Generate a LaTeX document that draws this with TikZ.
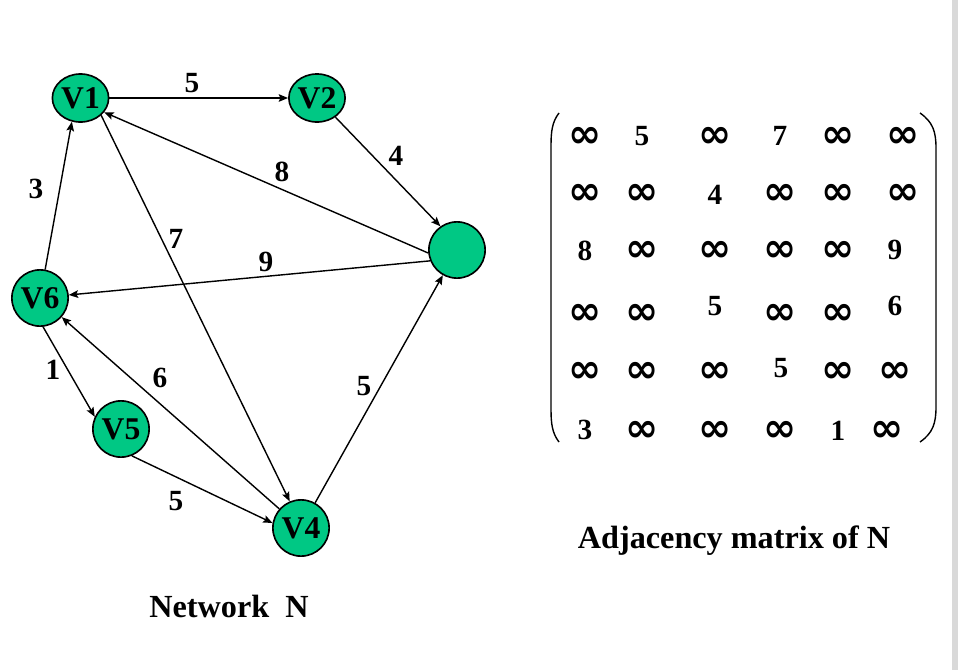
\documentclass[tikz,border=0pt]{standalone}
\usepackage{fontspec}
\setmainfont{Liberation Serif}
\newfontfamily\infont{DejaVu Sans}
\usepackage{tikz}
\usetikzlibrary{arrows.meta,shapes.geometric}

\definecolor{vgreen}{RGB}{0,200,132}
\newcommand{\infy}{\raisebox{-1.9pt}{\infont\bfseries\fontsize{34}{38}\selectfont ∞}}

\begin{document}
\begin{tikzpicture}[x=0.03cm,y=-0.03cm,
  vert/.style={circle,draw,line width=1.4pt,fill=vgreen,inner sep=0pt,minimum size=48pt,font=\bfseries\fontsize{27}{30}\selectfont},
  vertoval/.style={vert,ellipse,minimum width=48pt,minimum height=41pt},
  link/.style={line width=1.2pt,-{Stealth[length=8pt,width=6.5pt,inset=1.5pt]}},
  wt/.style={inner sep=0pt,font=\bfseries\fontsize{25}{28}\selectfont},
  entry/.style={inner sep=0pt,text height=21.4pt,text depth=0pt,font=\bfseries\fontsize{25}{28}\selectfont},
  caption/.style={inner sep=0pt,font=\bfseries\fontsize{27.5}{32}\selectfont}]
\useasboundingbox (0,0) rectangle (958,670);
\fill[gray!30] (952,0) rectangle (958,670);

\node[vertoval] (v1) at (80.5,98) {V1};
\node[vertoval] (v2) at (317,98) {V2};
\node[vert] (v3) at (457,250) {};
\node[vert] (v4) at (301,528) {V4};
\node[vert] (v5) at (121,429) {V5};
\node[vert] (v6) at (40,298) {V6};

\draw[link] (v1) -- (v2);
\draw[link] (v2) -- (v3.125);
\draw[link] (v3.186) -- (v1.329);
\draw[link] (v3.202) -- (v6.6);
\draw[link] (v6) -- (v1.250);
\draw[link] (v1.320) -- (v4.113);
\draw[link] (v4) -- (v6);
\draw[link] (v6.276) -- (v5.155);
\draw[link] (v5.292) -- (v4.170);
\draw[link] (v4) -- (v3);

\node[wt] (w12) at (192,83) {5};
\node[wt] (w23) at (396,156) {4};
\node[wt] (w31) at (282,172) {8};
\node[wt] (w36) at (266,262) {9};
\node[wt] (w61) at (36,189) {3};
\node[wt] (w14) at (176,239) {7};
\node[wt] (w46) at (160,378) {6};
\node[wt] (w65) at (53,370) {1};
\node[wt] (w54) at (176,501) {5};
\node[wt] (w43) at (364,386) {5};

\node[caption] (netcap) at (229,606) {Network~~N};

\draw[line width=1.2pt] (559,113) .. controls (552,122) and (551,132) .. (551,146) -- (551,409) .. controls (551,423) and (552,433) .. (559,442);
\draw[line width=1.2pt] (920,113) .. controls (933,122) and (936,132) .. (936,148) -- (936,407) .. controls (936,423) and (933,433) .. (920,442);

\foreach \c/\x/\y/\e in {1/585/133/\infy,2/642/133/5,3/715/133/\infy,4/780/133/7,5/838/133/\infy,6/903/133/\infy}
  \node[entry] (m1\c) at (\x,\y) {\e};
\foreach \c/\x/\y/\e in {1/585/190/\infy,2/642/190/\infy,3/715/192/4,4/780/190/\infy,5/838/190/\infy,6/903/190/\infy}
  \node[entry] (m2\c) at (\x,\y) {\e};
\foreach \c/\x/\y/\e in {1/585/248/8,2/642/247/\infy,3/715/247/\infy,4/780/247/\infy,5/838/247/\infy,6/895/247/9}
  \node[entry] (m3\c) at (\x,\y) {\e};
\foreach \c/\x/\y/\e in {1/585/310/\infy,2/642/310/\infy,3/715/303/5,4/780/310/\infy,5/838/310/\infy,6/895/303/6}
  \node[entry] (m4\c) at (\x,\y) {\e};
\foreach \c/\x/\y/\e in {1/585/368/\infy,2/642/368/\infy,3/715/368/\infy,4/781/365/5,5/838/368/\infy,6/895/368/\infy}
  \node[entry] (m5\c) at (\x,\y) {\e};
\foreach \c/\x/\y/\e in {1/585/427/3,2/642/427/\infy,3/715/427/\infy,4/780/427/\infy,5/838/428/1,6/887/427/\infy}
  \node[entry] (m6\c) at (\x,\y) {\e};

\node[caption,anchor=base] (matcap) at (734,548) {Adjacency matrix of N};

\end{tikzpicture}
\end{document}
